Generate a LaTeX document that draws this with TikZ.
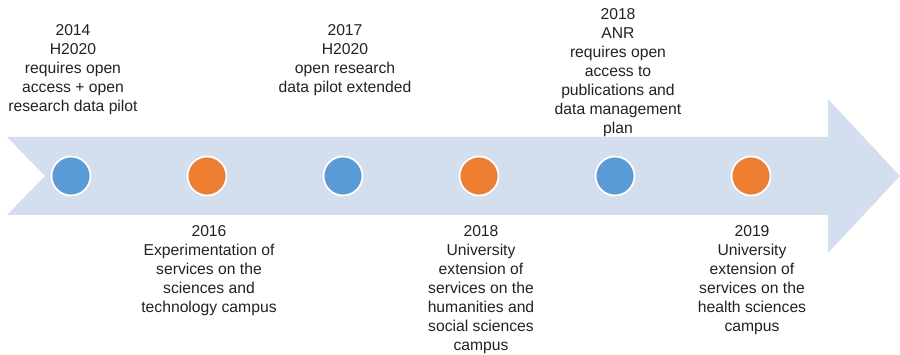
\documentclass[tikz,border=0pt]{standalone}
\usepackage{fontspec}
\setmainfont{Liberation Sans}
\definecolor{band}{HTML}{D3DFEE}
\definecolor{dotblue}{HTML}{5B9BD5}
\definecolor{dotorange}{HTML}{ED7D31}
\definecolor{txt}{HTML}{222222}
\begin{document}
\begin{tikzpicture}[x=1pt,y=-1pt,
  dot/.style={circle,draw=white,line width=1.8pt,minimum size=39pt,inner sep=0pt},
  bdot/.style={dot,fill=dotblue},
  odot/.style={dot,fill=dotorange},
  lbl/.style={align=center,inner sep=0pt,text=txt,font=\fontsize{15.7pt}{19pt}\selectfont},
  toplbl/.style={lbl,anchor=north},
  botlbl/.style={lbl,anchor=north}]
\useasboundingbox (0,0) rectangle (900,355);
\fill[band] (7,137) -- (828,137) -- (828,99) -- (900,176) -- (828,253) -- (828,215) -- (7,215) -- (45,176) -- cycle;
\node[bdot] (c1) at (71,176) {};
\node[odot] (c2) at (207,176) {};
\node[bdot] (c3) at (343,176) {};
\node[odot] (c4) at (479,176) {};
\node[bdot] (c5) at (615,176) {};
\node[odot] (c6) at (751,176) {};
\node[toplbl] (t1) at (73,24) {2014\\H2020\\requires open\\access + open\\research data pilot};
\node[toplbl] (t3) at (345,24) {2017\\H2020\\open research\\data pilot extended};
\node[toplbl] (t5) at (618,8) {2018\\ANR\\requires open\\access to\\publications and\\data management\\plan};
\node[botlbl] (t2) at (209,225) {2016\\Experimentation of\\services on the\\sciences and\\technology campus};
\node[botlbl] (t4) at (481,225) {2018\\University\\extension of\\services on the\\humanities and\\social sciences\\campus};
\node[botlbl] (t6) at (752,225) {2019\\University\\extension of\\services on the\\health sciences\\campus};
\end{tikzpicture}
\end{document}
